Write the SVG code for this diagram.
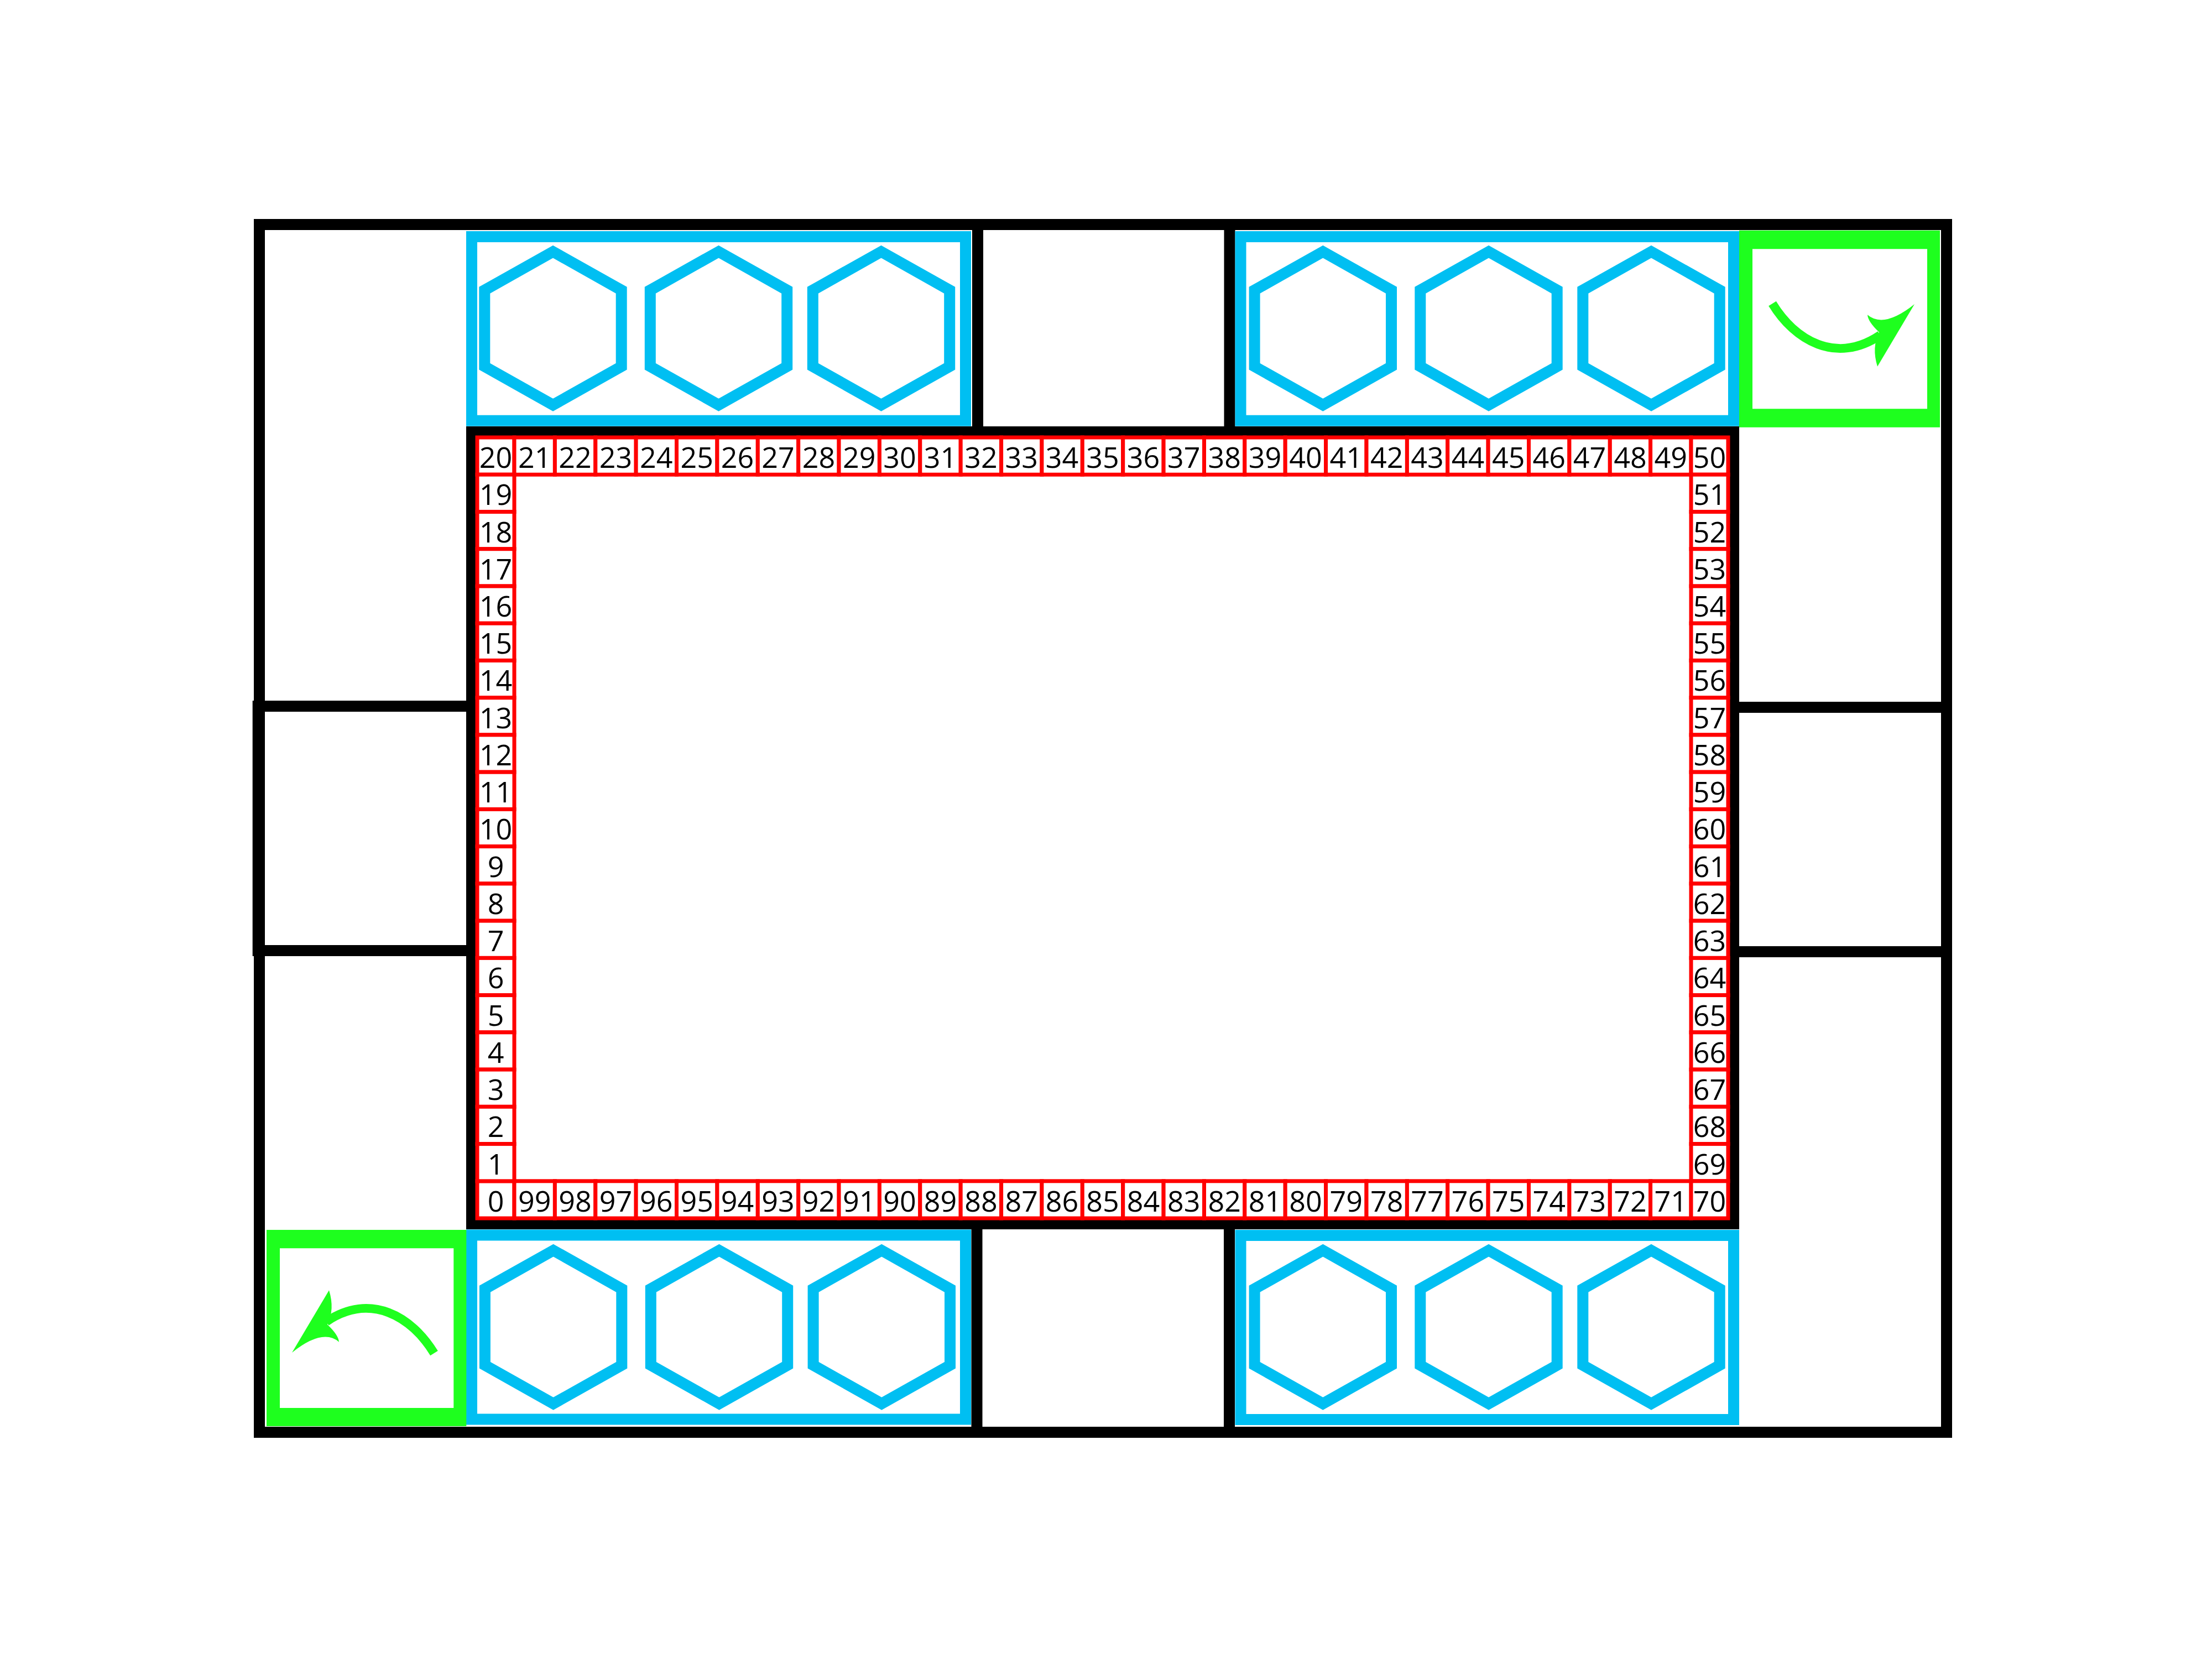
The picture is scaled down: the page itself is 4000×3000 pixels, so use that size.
<svg xmlns="http://www.w3.org/2000/svg" xmlns:xlink="http://www.w3.org/1999/xlink" width="4000" height="3000" viewBox="0 0 4000 3000">
<style>
.blk{fill:none;stroke:#000;stroke-width:20}
.blu{fill:none;stroke:#00bff2;stroke-width:20}
.grn{fill:#1eff1e;fill-rule:evenodd}
.hex{fill:none;stroke:#00bff2;stroke-width:20;stroke-miterlimit:10}
.cell rect{fill:#fff;stroke:#f00;stroke-width:7}
.cell text{font-family:"Open Sans","Noto Sans",sans-serif;font-size:52px;fill:#000;text-anchor:middle}
</style>
<defs>
<polygon id="hexagon" class="hex" points="0,-138.6 123.7,-69 123.7,69 0,138.6 -123.7,69 -123.7,-69"/>
<g id="arrow">
<path d="M3205,549 C3245,615 3320,660 3400,606" fill="none" stroke="#1eff1e" stroke-width="16"/>
<path d="M3462,550 Q3406.5,594.5 3377,569.3 Q3378,582 3398,600.7 Q3384.3,628.3 3395,662.7 Z" fill="#1eff1e"/>
</g>
</defs>
<rect width="4000" height="3000" fill="#fff"/>
<g id="frame">
<rect id="outer" class="blk" x="469" y="406" width="3051" height="2184"/>
<rect id="cell-left-mid" class="blk" x="466.7" y="1277" width="386.3" height="442"/>
<rect id="cell-right-mid" class="blk" x="3135" y="1279" width="385" height="442"/>
<rect id="cell-top-mid" class="blk" x="1768" y="406" width="455.5" height="375"/>
<rect id="cell-bottom-mid" class="blk" x="1766.5" y="2213" width="456.5" height="377"/>
<rect id="board" class="blk" x="853" y="781" width="2282" height="1432"/>
</g>
<g id="home-top-left">
<rect class="blu" x="853" y="428" width="893" height="332.7"/>
<use xlink:href="#hexagon" href="#hexagon" x="1000" y="593.7"/>
<use xlink:href="#hexagon" href="#hexagon" x="1299.5" y="593.7"/>
<use xlink:href="#hexagon" href="#hexagon" x="1593.5" y="593.7"/>
</g>
<g id="home-top-right">
<rect class="blu" x="2243.5" y="428" width="891.5" height="332.7"/>
<use xlink:href="#hexagon" href="#hexagon" x="2392.3" y="593.7"/>
<use xlink:href="#hexagon" href="#hexagon" x="2692" y="593.7"/>
<use xlink:href="#hexagon" href="#hexagon" x="2986" y="593.7"/>
</g>
<g id="home-bottom-left">
<rect class="blu" x="853" y="2233.5" width="893" height="333"/>
<use xlink:href="#hexagon" href="#hexagon" x="1000.6" y="2399.7"/>
<use xlink:href="#hexagon" href="#hexagon" x="1300.5" y="2399.7"/>
<use xlink:href="#hexagon" href="#hexagon" x="1594.3" y="2399.7"/>
</g>
<g id="home-bottom-right">
<rect class="blu" x="2243.5" y="2234" width="891.5" height="333"/>
<use xlink:href="#hexagon" href="#hexagon" x="2392.3" y="2399.7"/>
<use xlink:href="#hexagon" href="#hexagon" x="2692" y="2399.7"/>
<use xlink:href="#hexagon" href="#hexagon" x="2986" y="2399.7"/>
</g>
<g id="turn-top-right">
<path class="grn" d="M3145,416.7 H3508 V772.7 H3145 Z M3169,450.3 H3485 V739.3 H3169 Z"/>
<use xlink:href="#arrow" href="#arrow"/>
</g>
<g id="turn-bottom-left">
<path class="grn" d="M482,2224 H843.3 V2579 H482 Z M506,2257.3 H820.3 V2546 H506 Z"/>
<use xlink:href="#arrow" href="#arrow" transform="rotate(180 1995 1498)"/>
</g>
<g id="track" class="cell">
<g id="top-row">
<rect x="863" y="791" width="67" height="67.24"/><text x="896.5" y="846">20</text>
<rect x="930" y="791" width="73.4" height="67.24"/><text x="966.7" y="846">21</text>
<rect x="1003.4" y="791" width="73.4" height="67.24"/><text x="1040.1" y="846">22</text>
<rect x="1076.8" y="791" width="73.4" height="67.24"/><text x="1113.5" y="846">23</text>
<rect x="1150.1" y="791" width="73.4" height="67.24"/><text x="1186.8" y="846">24</text>
<rect x="1223.5" y="791" width="73.4" height="67.24"/><text x="1260.2" y="846">25</text>
<rect x="1296.9" y="791" width="73.4" height="67.24"/><text x="1333.6" y="846">26</text>
<rect x="1370.3" y="791" width="73.4" height="67.24"/><text x="1407" y="846">27</text>
<rect x="1443.7" y="791" width="73.4" height="67.24"/><text x="1480.4" y="846">28</text>
<rect x="1517" y="791" width="73.4" height="67.24"/><text x="1553.7" y="846">29</text>
<rect x="1590.4" y="791" width="73.4" height="67.24"/><text x="1627.1" y="846">30</text>
<rect x="1663.8" y="791" width="73.4" height="67.24"/><text x="1700.5" y="846">31</text>
<rect x="1737.2" y="791" width="73.4" height="67.24"/><text x="1773.9" y="846">32</text>
<rect x="1810.6" y="791" width="73.4" height="67.24"/><text x="1847.3" y="846">33</text>
<rect x="1883.9" y="791" width="73.4" height="67.24"/><text x="1920.6" y="846">34</text>
<rect x="1957.3" y="791" width="73.4" height="67.24"/><text x="1994" y="846">35</text>
<rect x="2030.7" y="791" width="73.4" height="67.24"/><text x="2067.4" y="846">36</text>
<rect x="2104.1" y="791" width="73.4" height="67.24"/><text x="2140.8" y="846">37</text>
<rect x="2177.5" y="791" width="73.4" height="67.24"/><text x="2214.2" y="846">38</text>
<rect x="2250.8" y="791" width="73.4" height="67.24"/><text x="2287.5" y="846">39</text>
<rect x="2324.2" y="791" width="73.4" height="67.24"/><text x="2360.9" y="846">40</text>
<rect x="2397.6" y="791" width="73.4" height="67.24"/><text x="2434.3" y="846">41</text>
<rect x="2471" y="791" width="73.4" height="67.24"/><text x="2507.7" y="846">42</text>
<rect x="2544.4" y="791" width="73.4" height="67.24"/><text x="2581.1" y="846">43</text>
<rect x="2617.7" y="791" width="73.4" height="67.24"/><text x="2654.4" y="846">44</text>
<rect x="2691.1" y="791" width="73.4" height="67.24"/><text x="2727.8" y="846">45</text>
<rect x="2764.5" y="791" width="73.4" height="67.24"/><text x="2801.2" y="846">46</text>
<rect x="2837.9" y="791" width="73.4" height="67.24"/><text x="2874.6" y="846">47</text>
<rect x="2911.3" y="791" width="73.4" height="67.24"/><text x="2948" y="846">48</text>
<rect x="2984.6" y="791" width="73.4" height="67.24"/><text x="3021.3" y="846">49</text>
<rect x="3058" y="791" width="67" height="67.24"/><text x="3091.5" y="846">50</text>
</g>
<g id="right-column">
<rect x="3058" y="858.2" width="67" height="67.24"/><text x="3091.5" y="913.2">51</text>
<rect x="3058" y="925.5" width="67" height="67.24"/><text x="3091.5" y="980.5">52</text>
<rect x="3058" y="992.7" width="67" height="67.24"/><text x="3091.5" y="1047.7">53</text>
<rect x="3058" y="1060" width="67" height="67.24"/><text x="3091.5" y="1115">54</text>
<rect x="3058" y="1127.2" width="67" height="67.24"/><text x="3091.5" y="1182.2">55</text>
<rect x="3058" y="1194.4" width="67" height="67.24"/><text x="3091.5" y="1249.4">56</text>
<rect x="3058" y="1261.7" width="67" height="67.24"/><text x="3091.5" y="1316.7">57</text>
<rect x="3058" y="1328.9" width="67" height="67.24"/><text x="3091.5" y="1383.9">58</text>
<rect x="3058" y="1396.2" width="67" height="67.24"/><text x="3091.5" y="1451.2">59</text>
<rect x="3058" y="1463.4" width="67" height="67.24"/><text x="3091.5" y="1518.4">60</text>
<rect x="3058" y="1530.6" width="67" height="67.24"/><text x="3091.5" y="1585.6">61</text>
<rect x="3058" y="1597.9" width="67" height="67.24"/><text x="3091.5" y="1652.9">62</text>
<rect x="3058" y="1665.1" width="67" height="67.24"/><text x="3091.5" y="1720.1">63</text>
<rect x="3058" y="1732.4" width="67" height="67.24"/><text x="3091.5" y="1787.4">64</text>
<rect x="3058" y="1799.6" width="67" height="67.24"/><text x="3091.5" y="1854.6">65</text>
<rect x="3058" y="1866.8" width="67" height="67.24"/><text x="3091.5" y="1921.8">66</text>
<rect x="3058" y="1934.1" width="67" height="67.24"/><text x="3091.5" y="1989.1">67</text>
<rect x="3058" y="2001.3" width="67" height="67.24"/><text x="3091.5" y="2056.3">68</text>
<rect x="3058" y="2068.6" width="67" height="67.24"/><text x="3091.5" y="2123.6">69</text>
</g>
<g id="bottom-row">
<rect x="863" y="2135.8" width="67" height="67.24"/><text x="896.5" y="2190.8">0</text>
<rect x="930" y="2135.8" width="73.4" height="67.24"/><text x="966.7" y="2190.8">99</text>
<rect x="1003.4" y="2135.8" width="73.4" height="67.24"/><text x="1040.1" y="2190.8">98</text>
<rect x="1076.8" y="2135.8" width="73.4" height="67.24"/><text x="1113.5" y="2190.8">97</text>
<rect x="1150.1" y="2135.8" width="73.4" height="67.24"/><text x="1186.8" y="2190.8">96</text>
<rect x="1223.5" y="2135.8" width="73.4" height="67.24"/><text x="1260.2" y="2190.8">95</text>
<rect x="1296.9" y="2135.8" width="73.4" height="67.24"/><text x="1333.6" y="2190.8">94</text>
<rect x="1370.3" y="2135.8" width="73.4" height="67.24"/><text x="1407" y="2190.8">93</text>
<rect x="1443.7" y="2135.8" width="73.4" height="67.24"/><text x="1480.4" y="2190.8">92</text>
<rect x="1517" y="2135.8" width="73.4" height="67.24"/><text x="1553.7" y="2190.8">91</text>
<rect x="1590.4" y="2135.8" width="73.4" height="67.24"/><text x="1627.1" y="2190.8">90</text>
<rect x="1663.8" y="2135.8" width="73.4" height="67.24"/><text x="1700.5" y="2190.8">89</text>
<rect x="1737.2" y="2135.8" width="73.4" height="67.24"/><text x="1773.9" y="2190.8">88</text>
<rect x="1810.6" y="2135.8" width="73.4" height="67.24"/><text x="1847.3" y="2190.8">87</text>
<rect x="1883.9" y="2135.8" width="73.4" height="67.24"/><text x="1920.6" y="2190.8">86</text>
<rect x="1957.3" y="2135.8" width="73.4" height="67.24"/><text x="1994" y="2190.8">85</text>
<rect x="2030.7" y="2135.8" width="73.4" height="67.24"/><text x="2067.4" y="2190.8">84</text>
<rect x="2104.1" y="2135.8" width="73.4" height="67.24"/><text x="2140.8" y="2190.8">83</text>
<rect x="2177.5" y="2135.8" width="73.4" height="67.24"/><text x="2214.2" y="2190.8">82</text>
<rect x="2250.8" y="2135.8" width="73.4" height="67.24"/><text x="2287.5" y="2190.8">81</text>
<rect x="2324.2" y="2135.8" width="73.4" height="67.24"/><text x="2360.9" y="2190.8">80</text>
<rect x="2397.6" y="2135.8" width="73.4" height="67.24"/><text x="2434.3" y="2190.8">79</text>
<rect x="2471" y="2135.8" width="73.4" height="67.24"/><text x="2507.7" y="2190.8">78</text>
<rect x="2544.4" y="2135.8" width="73.4" height="67.24"/><text x="2581.1" y="2190.8">77</text>
<rect x="2617.7" y="2135.8" width="73.4" height="67.24"/><text x="2654.4" y="2190.8">76</text>
<rect x="2691.1" y="2135.8" width="73.4" height="67.24"/><text x="2727.8" y="2190.8">75</text>
<rect x="2764.5" y="2135.8" width="73.4" height="67.24"/><text x="2801.2" y="2190.8">74</text>
<rect x="2837.9" y="2135.8" width="73.4" height="67.24"/><text x="2874.6" y="2190.8">73</text>
<rect x="2911.3" y="2135.8" width="73.4" height="67.24"/><text x="2948" y="2190.8">72</text>
<rect x="2984.6" y="2135.8" width="73.4" height="67.24"/><text x="3021.3" y="2190.8">71</text>
<rect x="3058" y="2135.8" width="67" height="67.24"/><text x="3091.5" y="2190.8">70</text>
</g>
<g id="left-column">
<rect x="863" y="858.2" width="67" height="67.24"/><text x="896.5" y="913.2">19</text>
<rect x="863" y="925.5" width="67" height="67.24"/><text x="896.5" y="980.5">18</text>
<rect x="863" y="992.7" width="67" height="67.24"/><text x="896.5" y="1047.7">17</text>
<rect x="863" y="1060" width="67" height="67.24"/><text x="896.5" y="1115">16</text>
<rect x="863" y="1127.2" width="67" height="67.24"/><text x="896.5" y="1182.2">15</text>
<rect x="863" y="1194.4" width="67" height="67.24"/><text x="896.5" y="1249.4">14</text>
<rect x="863" y="1261.7" width="67" height="67.24"/><text x="896.5" y="1316.7">13</text>
<rect x="863" y="1328.9" width="67" height="67.24"/><text x="896.5" y="1383.9">12</text>
<rect x="863" y="1396.2" width="67" height="67.24"/><text x="896.5" y="1451.2">11</text>
<rect x="863" y="1463.4" width="67" height="67.24"/><text x="896.5" y="1518.4">10</text>
<rect x="863" y="1530.6" width="67" height="67.24"/><text x="896.5" y="1585.6">9</text>
<rect x="863" y="1597.9" width="67" height="67.24"/><text x="896.5" y="1652.9">8</text>
<rect x="863" y="1665.1" width="67" height="67.24"/><text x="896.5" y="1720.1">7</text>
<rect x="863" y="1732.4" width="67" height="67.24"/><text x="896.5" y="1787.4">6</text>
<rect x="863" y="1799.6" width="67" height="67.24"/><text x="896.5" y="1854.6">5</text>
<rect x="863" y="1866.8" width="67" height="67.24"/><text x="896.5" y="1921.8">4</text>
<rect x="863" y="1934.1" width="67" height="67.24"/><text x="896.5" y="1989.1">3</text>
<rect x="863" y="2001.3" width="67" height="67.24"/><text x="896.5" y="2056.3">2</text>
<rect x="863" y="2068.6" width="67" height="67.24"/><text x="896.5" y="2123.6">1</text>
</g>
</g>
<g id="connectors"/>
</svg>
